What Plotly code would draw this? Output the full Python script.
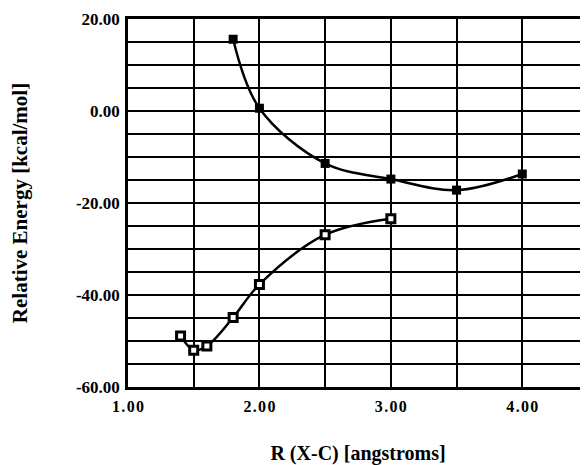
import plotly.graph_objects as go

# Upper curve (filled squares)
r_upper = [1.8, 2.0, 2.5, 3.0, 3.5, 4.0]
e_upper = [15.6, 0.6, -11.4, -14.8, -17.2, -13.7]

# Lower curve (open squares)
r_lower = [1.4, 1.5, 1.6, 1.8, 2.0, 2.5, 3.0]
e_lower = [-48.9, -52.0, -51.1, -44.9, -37.7, -26.9, -23.4]

x_ticks = [1.0, 2.0, 3.0, 4.0]
y_ticks = [20, 0, -20, -40, -60]

font_family = "Liberation Serif, Times New Roman, serif"
hs = "\u200a"  # hair space to mimic wide letter spacing of x tick labels

fig = go.Figure()
fig.add_trace(go.Scatter(
    x=r_upper, y=e_upper, mode="lines+markers",
    line=dict(color="black", width=2.5, shape="spline", smoothing=1.0),
    marker=dict(symbol="square", size=9, color="black"),
    showlegend=False, cliponaxis=False,
))
fig.add_trace(go.Scatter(
    x=r_lower, y=e_lower, mode="lines+markers",
    line=dict(color="black", width=2.5, shape="spline", smoothing=1.0),
    marker=dict(symbol="square", size=8, color="white",
                line=dict(color="black", width=3)),
    showlegend=False, cliponaxis=False,
))

fig.update_layout(
    width=580, height=457,
    margin=dict(l=120, r=0, t=11, b=78),
    paper_bgcolor="white", plot_bgcolor="white",
    font=dict(family=font_family, color="black"),
)
fig.update_xaxes(
    range=[1.0, 4.5], tickvals=x_ticks,
    ticktext=[hs.join(f"{v:.2f}") for v in x_ticks],
    tickfont=dict(size=16, family=font_family, weight="bold"),
    showgrid=True, gridcolor="black", gridwidth=1.6,
    minor=dict(dtick=0.5, tick0=1.0, showgrid=True, gridcolor="black", gridwidth=1.6),
    showline=True, linecolor="black", linewidth=2.5, mirror=True,
    ticks="", ticklabelstandoff=3, zeroline=False, automargin=False,
    title=dict(text="R (X-C) [angstroms]", standoff=40,
               font=dict(size=20, family=font_family, weight="bold")),
)
fig.update_yaxes(
    range=[-60, 20], tickvals=y_ticks,
    ticktext=[f"{v:.2f}" for v in y_ticks],
    tickfont=dict(size=17, family=font_family, weight="bold"),
    showgrid=True, gridcolor="black", gridwidth=1.6,
    minor=dict(dtick=5, tick0=0, showgrid=True, gridcolor="black", gridwidth=1.6),
    showline=True, linecolor="black", linewidth=2.5, mirror=True,
    ticks="", ticklabelstandoff=2, zeroline=False, automargin=False,
    title=dict(text="Relative Energy [kcal/mol]", standoff=50,
               font=dict(size=21, family=font_family, weight="bold")),
)

fig.write_html("out.html")
